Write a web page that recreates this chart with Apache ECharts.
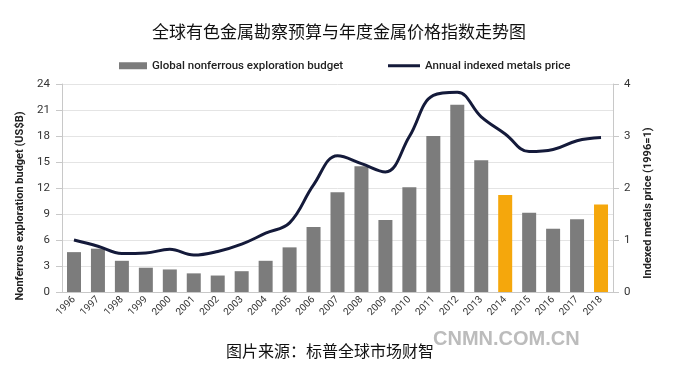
<!DOCTYPE html>
<html>
<head>
<meta charset="utf-8">
<style>
  html, body { margin: 0; padding: 0; background: #fff; }
  #chart { width: 678px; height: 377px; }
</style>
<script src="https://cdn.jsdelivr.net/npm/echarts@6/dist/echarts.min.js"></script>
</head>
<body>
<div id="chart"></div>
<script>
// 年份
const years = ['1996', '1997', '1998', '1999', '2000', '2001', '2002', '2003', '2004', '2005', '2006', '2007',
  '2008', '2009', '2010', '2011', '2012', '2013', '2014', '2015', '2016', '2017', '2018'];
// 勘察预算 (US$B)
const budget = [4.6, 5.0, 3.6, 2.8, 2.6, 2.15, 1.9, 2.4, 3.6, 5.15, 7.5, 11.5,
  14.5, 8.3, 12.1, 18.0, 21.6, 15.2, 11.2, 9.15, 7.3, 8.4, 10.1];
// 金属价格指数 (1996=1)
const priceIndex = [1.0, 0.88, 0.74, 0.75, 0.82, 0.71, 0.78, 0.92, 1.13, 1.33, 2.06, 2.62,
  2.47, 2.31, 2.99, 3.78, 3.84, 3.37, 3.04, 2.70, 2.74, 2.91, 2.97];
// 橙色标出的年份
const highlightYears = ['2014', '2018'];

let chart = echarts.init(document.getElementById('chart'));

const font = 'Roboto, "Noto Sans CJK SC", sans-serif';
const legendText = { fontSize: 11.5, fontWeight: 500, color: '#222', fontFamily: font };

let option = {
  backgroundColor: '#fff',
  animation: false,
  title: {
    text: '全球有色金属勘察预算与年度金属价格指数走势图',
    left: 'center',
    top: 18,
    textStyle: { fontSize: 17, fontWeight: 'normal', color: '#111', fontFamily: '"Noto Sans CJK SC", sans-serif' }
  },
  legend: [
    {
      top: 55, left: 114,
      itemWidth: 28, itemHeight: 7, itemGap: 2,
      textStyle: legendText,
      data: [{ name: 'Global nonferrous exploration budget', icon: 'rect', itemStyle: { color: '#7c7c7c' } }]
    },
    {
      top: 55, left: 383,
      itemWidth: 32, itemHeight: 3, itemGap: 2,
      textStyle: legendText,
      data: [{ name: 'Annual indexed metals price', icon: 'rect', itemStyle: { color: '#141a3a' } }]
    }
  ],
  grid: { left: 62, right: 65, top: 84, bottom: 85 },
  xAxis: {
    type: 'category',
    data: years,
    axisLine: { lineStyle: { color: '#c8c8c8' } },
    axisTick: { lineStyle: { color: '#c8c8c8' } },
    axisLabel: { rotate: 45, fontSize: 10, color: '#333', fontFamily: font, margin: 6 }
  },
  yAxis: [
    {
      type: 'value',
      min: 0, max: 24, interval: 3,
      axisLine: { show: true, lineStyle: { color: '#c8c8c8' } },
      axisTick: { show: true, length: 6, lineStyle: { color: '#c8c8c8' } },
      axisLabel: { fontSize: 11.5, color: '#333', fontFamily: font, margin: 12 },
      splitLine: { lineStyle: { color: '#e4e4e4' } }
    },
    {
      type: 'value',
      min: 0, max: 4, interval: 1,
      axisLine: { show: true, lineStyle: { color: '#c8c8c8' } },
      axisTick: { show: true, length: 6, lineStyle: { color: '#c8c8c8' } },
      axisLabel: { fontSize: 11.5, color: '#333', fontFamily: font, margin: 11 },
      splitLine: { show: false }
    }
  ],
  series: [
    {
      name: 'Global nonferrous exploration budget',
      type: 'bar',
      barWidth: 14,
      data: budget.map((v, i) => ({
        value: v,
        itemStyle: { color: highlightYears.includes(years[i]) ? '#f5a70c' : '#7c7c7c' }
      }))
    },
    {
      name: 'Annual indexed metals price',
      type: 'line',
      yAxisIndex: 1,
      smooth: 0.4,
      symbol: 'none',
      data: priceIndex,
      lineStyle: { width: 3, color: '#141a3a' },
      itemStyle: { color: '#141a3a' }
    }
  ],
  graphic: [
    // 坐标轴名称
    {
      type: 'text',
      x: 20, y: 206, rotation: Math.PI / 2,
      style: {
        text: 'Nonferrous exploration budget (US$B)', fill: '#222',
        font: 'bold 11px Roboto, sans-serif', align: 'center', verticalAlign: 'middle'
      }
    },
    {
      type: 'text',
      x: 648, y: 203, rotation: Math.PI / 2,
      style: {
        text: 'Indexed metals price (1996=1)', fill: '#222',
        font: 'bold 11px Roboto, sans-serif', align: 'center', verticalAlign: 'middle'
      }
    },
    {
      type: 'text',
      left: 433, top: 329,
      style: { text: 'CNMN.COM.CN', fill: '#bcbcbc', font: 'bold 20px "Liberation Sans", Arial, sans-serif' }
    },
    {
      type: 'text',
      left: 226, top: 343,
      style: { text: '图片来源：标普全球市场财智', fill: '#111', font: '16px "Noto Sans CJK SC", sans-serif' }
    }
  ]
};

chart.setOption(option);
</script>
</body>
</html>
